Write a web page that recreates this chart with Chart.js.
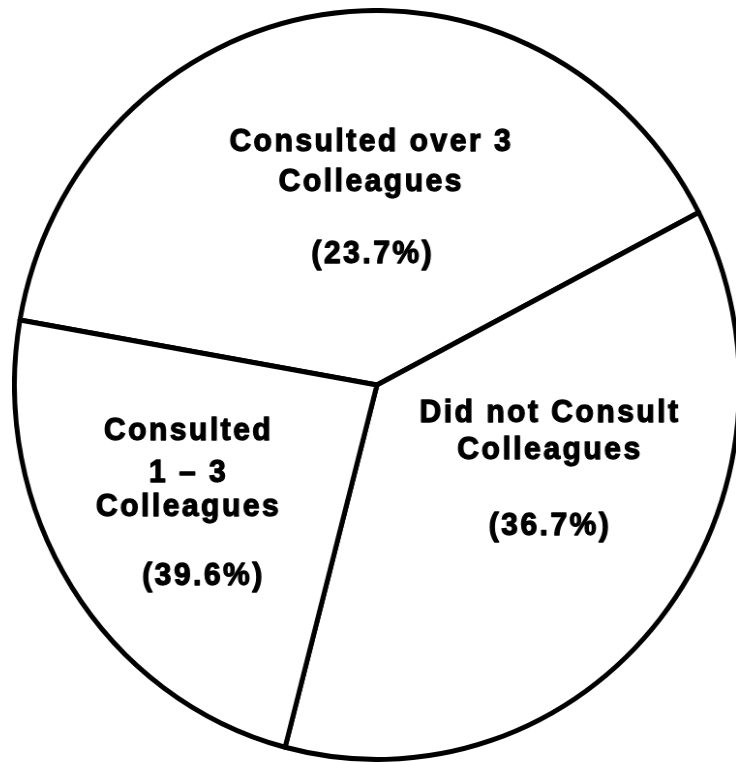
<!DOCTYPE html>
<html>
<head>
<meta charset="utf-8">
<title>Consulted Colleagues</title>
<script src="https://cdn.jsdelivr.net/npm/chart.js@4.4.0/dist/chart.umd.min.js"></script>
<style>
    html, body { margin: 0; padding: 0; background: #fff; overflow: hidden; width: 736px; height: 763px; }
    /* the scanned pie is a little narrower than it is tall */
    #wrap { position: absolute; left: 12px; top: 8px; transform-origin: 0 0; transform: scaleX(0.968); }
</style>
</head>
<body>
<div id="wrap"><canvas id="pieChart" width="754" height="754"></canvas></div>
<script>
// slice order: top, right, left (clockwise from the left spoke)
const categories = ['Consulted over 3 Colleagues', 'Did not Consult Colleagues', 'Consulted 1 - 3 Colleagues']
// slice sizes as drawn in the picture (in %)
const shares = [39.6, 36.7, 23.7]
// percentages as printed inside each slice
const printedPct = ['(23.7%)', '(36.7%)', '(39.6%)']
const nameLines = [
    ['Consulted over 3', 'Colleagues'],
    ['Did not Consult', 'Colleagues'],
    ['Consulted', '1 \u2013 3', 'Colleagues']
]

// where each text block sits, as fractions of the radius from the centre
const labelLayout = [
    { x: -0.019, pctX: -0.015, ys: [-0.624, -0.517], pctY: -0.325 },
    { x: 0.474, pctX: 0.474, ys: [0.099, 0.197], pctY: 0.400 },
    { x: -0.523, pctX: -0.482, ys: [0.147, 0.259, 0.349], pctY: 0.533 }
]

const sliceText = {
    id: 'sliceText',
    afterDatasetsDraw(chart) {
        const arcs = chart.getDatasetMeta(0).data
        const ctx = chart.ctx
        const spacing = 2.6
        ctx.save()
        ctx.fillStyle = '#000'
        ctx.strokeStyle = '#000'
        ctx.lineWidth = 1.3
        ctx.lineJoin = 'round'
        ctx.font = 'bold 31px "Liberation Sans", Arial, sans-serif'
        ctx.letterSpacing = spacing + 'px'
        ctx.textAlign = 'center'
        ctx.textBaseline = 'alphabetic'
        const put = (txt, x, y) => {
            ctx.fillText(txt, x, y)
            ctx.strokeText(txt, x, y)
        }
        arcs.forEach((arc, i) => {
            const cx = arc.x, cy = arc.y, r = arc.outerRadius
            const lay = labelLayout[i]
            nameLines[i].forEach((line, j) => {
                put(line, cx + lay.x * r + spacing / 2, cy + lay.ys[j] * r)
            })
            put(printedPct[i], cx + lay.pctX * r + spacing / 2, cy + lay.pctY * r)
        })
        ctx.restore()
    }
}

new Chart(document.getElementById('pieChart'), {
    type: 'pie',
    data: {
        labels: categories,
        datasets: [{
            data: shares,
            backgroundColor: '#ffffff',
            borderColor: '#000000',
            borderWidth: 5,
            borderJoinStyle: 'round'
        }]
    },
    options: {
        responsive: false,
        animation: false,
        rotation: -80,
        layout: { padding: 0 },
        plugins: {
            legend: { display: false },
            tooltip: { enabled: false }
        }
    },
    plugins: [sliceText]
})
</script>
</body>
</html>
